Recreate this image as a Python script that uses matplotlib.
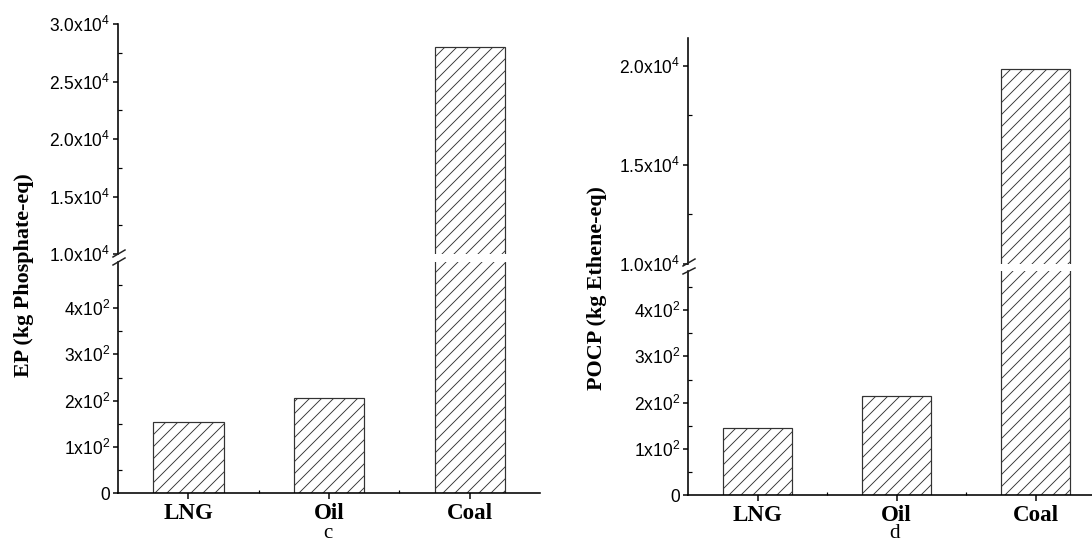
import numpy as np
import matplotlib
matplotlib.use("Agg")
import matplotlib.pyplot as plt
from matplotlib.lines import Line2D

categories = ["LNG", "Oil", "Coal"]
ep_values = [154, 205, 28000]
pocp_values = [145, 215, 19850]

ep_low_ticks = [0, 100, 200, 300, 400]
ep_high_ticks = [10000, 15000, 20000, 25000, 30000]
pocp_low_ticks = [0, 100, 200, 300, 400]
pocp_high_ticks = [10000, 15000, 20000]

plt.rcParams['font.family'] = 'Liberation Sans'
plt.rcParams['mathtext.fontset'] = 'custom'
plt.rcParams['mathtext.rm'] = 'Liberation Sans'
plt.rcParams['hatch.linewidth'] = 0.9
plt.rcParams['hatch.color'] = '#333333'

W, H = 1092, 544
fig = plt.figure(figsize=(W / 72, H / 72), dpi=72)


def rect(x0, x1, y_top, y_bot):
    # pixel box -> figure fraction
    return [x0 / W, 1 - y_bot / H, (x1 - x0) / W, (y_bot - y_top) / H]


def sci(v, dec):
    if v == 0:
        return "0"
    e = int(np.floor(np.log10(v)))
    m = v / 10 ** e
    return f"{m:.{dec}f}x10" + "$^{%d}$" % e


def style(ax):
    for s in ["top", "right"]:
        ax.spines[s].set_visible(False)
    for s in ["left", "bottom"]:
        ax.spines[s].set_linewidth(1.6)
    ax.tick_params(axis="y", which="major", direction="out", length=5, width=1.5,
                   labelsize=17.5, pad=3)
    ax.tick_params(axis="y", which="minor", direction="in", length=3.5, width=1.2)
    ax.set_xlim(0.5, 3.5)


def panel(x0, x1, y_top, y_hi, y_lo, y_zero, hi_lim, lo_lim, values,
          lo_ticks, hi_ticks, ylabel, ylab_xy, letter, letter_x, breaks):
    xs = np.arange(1, len(categories) + 1)

    top = fig.add_axes(rect(x0, x1, y_top, y_hi))
    bot = fig.add_axes(rect(x0, x1, y_lo, y_zero))
    for ax in (top, bot):
        ax.bar(xs, values, width=0.5, color="white", edgecolor="#333333",
               hatch="//", linewidth=1.2, zorder=2)
        style(ax)

    top.set_ylim(*hi_lim)
    top.spines["bottom"].set_visible(False)
    top.set_xticks([])
    top.set_yticks(hi_ticks)
    top.set_yticklabels([sci(v, 1) for v in hi_ticks])
    step = hi_ticks[1] - hi_ticks[0]
    top.set_yticks(np.arange(hi_ticks[0] + step / 2, hi_lim[1], step), minor=True)

    bot.set_ylim(*lo_lim)
    bot.set_yticks(lo_ticks)
    bot.set_yticklabels([sci(v, 0) for v in lo_ticks])
    step = lo_ticks[1] - lo_ticks[0]
    bot.set_yticks(np.arange(step / 2, lo_lim[1], step), minor=True)
    bot.set_xticks(xs)
    bot.set_xticklabels(categories, fontfamily="Liberation Serif",
                        fontweight="bold", fontsize=23)
    bot.set_xticks([1.5, 2.5], minor=True)
    bot.tick_params(axis="x", which="major", direction="out", length=6, width=1.5, pad=4)
    bot.tick_params(axis="x", which="minor", direction="in", length=3, width=1.2)

    fig.text(ylab_xy[0] / W, 1 - ylab_xy[1] / H, ylabel, rotation=90,
             ha="center", va="center", fontfamily="Liberation Serif",
             fontweight="bold", fontsize=22)
    fig.text(letter_x / W, 1 - 543 / H, letter, ha="center", va="bottom",
             fontfamily="Liberation Serif", fontsize=21)

    for (xa, ya, xb, yb) in breaks:
        fig.add_artist(Line2D([xa / W, xb / W], [1 - ya / H, 1 - yb / H],
                              transform=fig.transFigure, color="#222222", lw=1.5))


panel(118, 540, 24, 254, 262, 493, (10000, 30000), (0, 500), ep_values,
      ep_low_ticks, ep_high_ticks, "EP (kg Phosphate-eq)", (24, 275), "c", 328,
      [(113, 257, 125, 250), (113, 265, 125, 258)])

panel(688, 1105, 38, 264, 271, 495, (10000, 21414), (0, 485), pocp_values,
      pocp_low_ticks, pocp_high_ticks, "POCP (kg Ethene-eq)", (597, 288), "d", 895,
      [(683, 266, 695, 259), (683, 274, 695, 268)])

fig.savefig("out.png", dpi=72)
